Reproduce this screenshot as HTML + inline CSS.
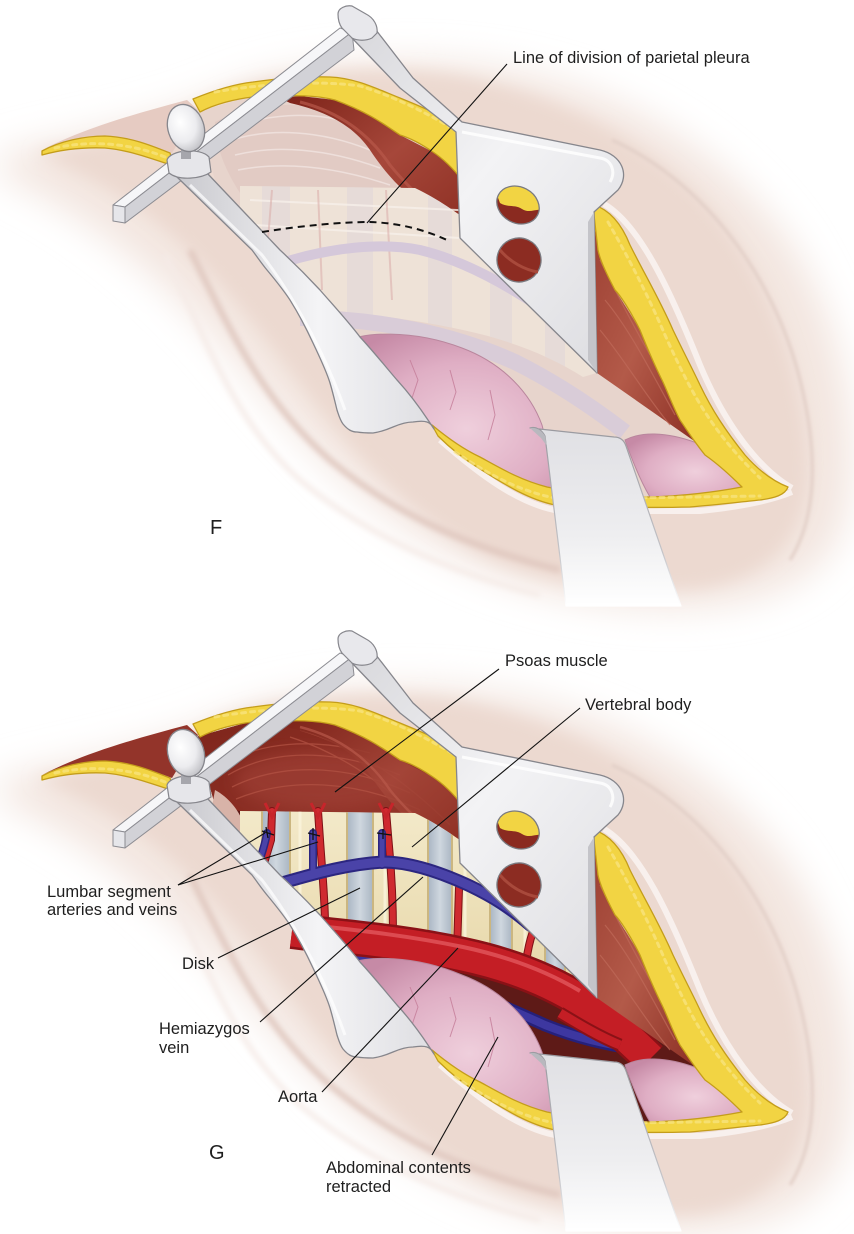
<!DOCTYPE html>
<html><head><meta charset="utf-8">
<style>
html,body{margin:0;padding:0;background:#fff;}
svg{display:block;}
text{font-family:"Liberation Sans",Arial,sans-serif;fill:#1e1e1e;}
</style></head>
<body>
<svg width="854" height="1234" viewBox="0 0 854 1234" xmlns="http://www.w3.org/2000/svg">
<defs>
  <filter id="b18" x="-30%" y="-30%" width="160%" height="160%"><feGaussianBlur stdDeviation="18"/></filter>
  <filter id="b8" x="-20%" y="-20%" width="140%" height="140%"><feGaussianBlur stdDeviation="8"/></filter>
  <filter id="b3" x="-20%" y="-20%" width="140%" height="140%"><feGaussianBlur stdDeviation="3"/></filter>
  <filter id="b2" x="-20%" y="-20%" width="140%" height="140%"><feGaussianBlur stdDeviation="1.5"/></filter>
  <linearGradient id="metal" x1="0" y1="0" x2="1" y2="0">
    <stop offset="0" stop-color="#c9c9ce"/><stop offset="0.55" stop-color="#f4f4f6"/><stop offset="1" stop-color="#dedee2"/>
  </linearGradient>
  <linearGradient id="plate" x1="0" y1="0" x2="1" y2="1">
    <stop offset="0" stop-color="#d8d8dc"/><stop offset="0.45" stop-color="#f3f3f5"/><stop offset="1" stop-color="#dcdce0"/>
  </linearGradient>
  <linearGradient id="bret" gradientUnits="userSpaceOnUse" x1="0" y1="430" x2="0" y2="605">
    <stop offset="0" stop-color="#e0e0e4"/><stop offset="0.6" stop-color="#eeeef0"/><stop offset="1" stop-color="#ffffff"/>
  </linearGradient>
  <linearGradient id="bretS" gradientUnits="userSpaceOnUse" x1="0" y1="430" x2="0" y2="605">
    <stop offset="0" stop-color="#9a9aa0"/><stop offset="0.7" stop-color="#c4c4c8"/><stop offset="1" stop-color="#ffffff"/>
  </linearGradient>
  <linearGradient id="mus" x1="0" y1="0" x2="1" y2="1">
    <stop offset="0" stop-color="#7c2218"/><stop offset="0.5" stop-color="#a6473a"/><stop offset="1" stop-color="#8a2c20"/>
  </linearGradient>
  <linearGradient id="musR" x1="0" y1="0" x2="1" y2="1">
    <stop offset="0" stop-color="#9c3f32"/><stop offset="0.5" stop-color="#b35a49"/><stop offset="1" stop-color="#8c2f24"/>
  </linearGradient>
  <linearGradient id="psoas" x1="0" y1="0" x2="1" y2="1">
    <stop offset="0" stop-color="#7e251b"/><stop offset="0.5" stop-color="#94352a"/><stop offset="1" stop-color="#7a2219"/>
  </linearGradient>
  <radialGradient id="organ" cx="0.6" cy="0.6" r="0.7">
    <stop offset="0" stop-color="#efcfdc"/><stop offset="0.6" stop-color="#dfaec4"/><stop offset="1" stop-color="#c68aa6"/>
  </radialGradient>
  <radialGradient id="knob" cx="0.4" cy="0.35" r="0.7">
    <stop offset="0" stop-color="#ffffff"/><stop offset="0.6" stop-color="#ececef"/><stop offset="1" stop-color="#bdbdc2"/>
  </radialGradient>
  <linearGradient id="bone" x1="0" y1="0" x2="0" y2="1">
    <stop offset="0" stop-color="#f3e9c9"/><stop offset="1" stop-color="#e6d6a6"/>
  </linearGradient>
  <linearGradient id="disk" x1="0" y1="0" x2="1" y2="0">
    <stop offset="0" stop-color="#a9b5c3"/><stop offset="0.5" stop-color="#cfd7df"/><stop offset="1" stop-color="#aab6c3"/>
  </linearGradient>
  <clipPath id="spineClip">
    <path d="M 240,186 L 415,188 C 440,200 455,212 470,222 C 495,235 515,243 530,252 C 555,268 575,290 590,320 L 600,372 L 583,377 C 550,356 510,340 463,330 C 400,316 340,312 295,306 L 270,270 L 240,230 Z"/>
  </clipPath>
  <clipPath id="hole1"><ellipse cx="518" cy="205" rx="22" ry="18" transform="rotate(28 518 205)"/></clipPath>

  <!-- SKIN -->
  <g id="skin">
    <path d="M 0,155 C 60,138 150,125 230,90 C 300,62 420,52 520,72 C 630,95 720,150 785,235 C 845,320 865,440 845,520 C 825,590 745,612 650,608 C 560,604 470,575 400,525 C 330,475 280,415 225,350 C 165,280 90,215 0,175 Z" fill="#f3e6e0" filter="url(#b18)"/>
    <path d="M 35,153 C 100,142 165,128 215,98 C 275,68 400,64 470,78 C 560,98 640,138 700,198 C 768,268 806,378 808,468 C 808,538 768,578 700,588 C 620,594 560,586 500,562 C 432,532 380,482 330,422 C 282,362 242,302 182,244 C 132,198 82,172 35,153 Z" fill="#ecd9d0" filter="url(#b8)"/>
    <path d="M 190,250 C 230,330 262,400 330,460 C 390,510 460,545 560,570" stroke="#e0c8bf" stroke-width="6" fill="none" filter="url(#b3)"/>
    <path d="M 165,255 C 205,335 232,420 300,480 C 360,530 440,570 540,595" stroke="#f5ebe7" stroke-width="5" fill="none" filter="url(#b3)"/>
    <path d="M 612,140 C 700,180 772,270 800,380 C 820,460 815,520 790,560" stroke="#e2cfc7" stroke-width="3" fill="none" filter="url(#b2)"/>
    <path d="M 604,204 C 640,225 670,290 700,365 C 725,425 760,470 792,488" stroke="#f8f0ed" stroke-width="6" fill="none"/>
    <path d="M 440,440 C 480,475 520,505 560,511 L 700,511 C 740,507 770,501 792,492" stroke="#f8f0ed" stroke-width="6" fill="none"/>
  </g>

  <!-- FAT -->
  <g id="fat" fill="#f2d443" stroke="#c49d1a" stroke-width="1.3" stroke-linejoin="round">
    <path d="M 42,151 C 60,141 85,136 105,136 C 130,137 150,145 170,153 L 174,166 C 150,158 128,150 105,148 C 80,147 60,150 42,155 Z"/>
    <path d="M 193,99 C 215,90 235,84 253,82 C 275,79 300,76 330,77 C 355,78 375,88 400,98 C 420,106 440,115 462,126 L 462,180 C 452,167 442,158 433,152 C 420,143 410,138 400,135 C 385,125 370,113 335,100 C 315,95 300,95 253,97 C 235,99 215,104 200,112 Z"/>
    <path d="M 594,205 C 610,210 622,225 630,245 C 645,275 660,300 673,330 C 685,355 693,370 700,385 C 712,410 725,430 745,455 C 760,472 775,482 788,487 C 785,495 775,498 760,500 C 740,502 715,505 690,507 C 650,508 600,507 555,505 C 530,500 505,485 480,469 C 462,458 450,448 438,436 L 432,425 C 450,440 465,450 480,457 C 500,468 520,480 547,487 C 580,494 620,497 650,497 C 680,496 710,493 742,487 C 725,470 715,462 705,455 C 693,440 687,430 680,420 C 672,405 667,390 662,380 C 652,360 646,345 640,330 C 630,310 620,295 615,290 C 607,275 600,260 598,250 L 594,215 Z"/>
    <g fill="none" stroke="#f9e685" stroke-width="3" stroke-dasharray="4 5" stroke-linecap="round" opacity="0.7">
      <path d="M 215,92 C 260,84 320,80 360,86 C 395,97 425,112 455,130"/>
      <path d="M 608,222 C 630,260 650,300 665,335 C 690,390 710,430 760,478"/>
      <path d="M 455,452 C 490,475 520,492 560,499 L 760,496"/>
      <path d="M 55,148 C 90,140 130,143 165,157"/>
    </g>
  </g>

  <!-- RETRACTORS -->
  <g id="retr" stroke-linejoin="round">
    <path d="M 113,205 L 340,28 L 352,32 L 125,207 Z" fill="#f6f6f8" stroke="#8c8c92" stroke-width="1"/>
    <path d="M 125,207 L 352,32 L 354,50 L 125,223 Z" fill="#d2d2d7" stroke="#8c8c92" stroke-width="1"/>
    <path d="M 113,205 L 125,207 L 125,223 L 113,221 Z" fill="#e6e6ea" stroke="#8c8c92" stroke-width="1"/>
    <path d="M 352,38 L 376,30 L 413,78 L 462,122 L 600,150 C 622,155 630,175 618,190 L 594,212 L 597,373 L 460,238 L 456,132 L 400,88 Z" fill="url(#plate)" stroke="#86868c" stroke-width="1.3"/>
    <path d="M 594,212 L 597,373 L 588,360 L 588,222 Z" fill="#c4c4c9"/>
    <path d="M 462,132 L 600,158 C 612,160 616,172 610,182" fill="none" stroke="#ffffff" stroke-width="3" opacity="0.8"/>
    <path d="M 338,14 C 338,8 346,5 352,6 L 366,14 C 374,18 378,26 377,33 L 372,38 C 366,41 358,41 352,38 L 342,28 C 339,24 338,19 338,14 Z" fill="#e8e8ec" stroke="#86868c" stroke-width="1.2"/>
    <g clip-path="url(#hole1)">
      <rect x="490" y="180" width="60" height="50" fill="#8a2a20"/>
      <path d="M 492,182 L 548,182 L 545,210 C 536,208 530,214 522,209 C 515,204 508,208 500,203 Z" fill="#f2d443"/>
    </g>
    <ellipse cx="518" cy="205" rx="22" ry="18" transform="rotate(28 518 205)" fill="none" stroke="#7a7a80" stroke-width="1.3"/>
    <ellipse cx="519" cy="260" rx="22" ry="22" transform="rotate(25 519 260)" fill="#8c2c22" stroke="#7a7a80" stroke-width="1.3"/>
    <path d="M 500,250 C 510,262 525,270 538,272" stroke="#a8493b" stroke-width="3" fill="none"/>
    <path d="M 177,177 L 252,250 C 258,258 262,264 267,270 C 277,282 284,291 290,300 C 300,316 307,330 313,343 C 320,358 326,370 330,383 C 333,393 335,402 337,410 C 339,416 340,420 343,424 C 348,430 352,432 357,432 C 363,433 368,433 373,433 C 380,432 386,430 393,427 C 400,424 406,422 413,422 C 419,421 424,421 427,422 C 430,423 432,425 434,429 C 432,426 430,423 428,420 C 418,405 408,392 397,380 C 385,366 373,351 360,337 C 347,320 333,305 320,290 C 307,276 294,263 280,250 L 207,173 Z" fill="url(#metal)" stroke="#86868c" stroke-width="1.3"/>
    <path d="M 190,185 L 262,255 C 285,285 320,340 345,410" fill="none" stroke="#ffffff" stroke-width="3" opacity="0.7"/>
    <path d="M 167,160 C 170,150 200,147 209,157 L 211,172 C 201,179 179,181 169,173 Z" fill="#e6e6ea" stroke="#86868c" stroke-width="1.2"/>
    <rect x="181" y="148" width="10" height="11" fill="#a6a6ac"/>
    <ellipse cx="186" cy="128" rx="18" ry="24" transform="rotate(-18 186 128)" fill="url(#knob)" stroke="#86868c" stroke-width="1.3"/>
    <path d="M 530,428 C 536,426 542,430 545,436 L 566,606 L 681,606 L 626,446 C 624,440 620,437 614,437 Z" fill="url(#bret)" stroke="url(#bretS)" stroke-width="1.2"/>
    <path d="M 530,428 C 537,427 542,431 545,436 L 547,446 L 541,438 Z" fill="#b8b8be"/>
  </g>
</defs>

<!-- ================= PANEL F ================= -->
<use href="#skin"/>
<g id="intF">
  <path d="M 42,150 C 80,130 130,115 187,100 L 198,110 L 172,153 C 150,145 128,137 105,136 C 85,136 60,141 42,150 Z" fill="#e6cbc2"/>
  <path d="M 196,112 L 253,96 L 300,95 L 335,99 L 370,113 L 400,133 L 433,150 L 460,172 L 530,185 L 594,212 L 598,250 L 615,290 L 640,330 L 662,380 L 680,420 L 705,455 L 745,488 L 700,495 L 650,499 L 600,497 L 547,489 L 515,477 L 480,459 L 432,425 L 400,390 L 350,330 L 300,280 L 250,230 L 215,180 Z" fill="#e7d4cc"/>
  <path d="M 215,122 C 250,105 290,100 330,110 C 360,130 385,160 400,192 C 360,197 300,196 240,193 C 225,170 215,145 215,122 Z" fill="#e2cbc4"/>
  <g stroke="#f1e5e1" stroke-width="1.5" fill="none" opacity="0.8">
    <path d="M 232,140 C 270,128 320,130 370,150"/>
    <path d="M 235,155 C 275,145 325,148 380,168"/>
    <path d="M 238,170 C 280,162 330,165 390,185"/>
    <path d="M 240,125 C 270,115 305,112 340,120"/>
  </g>
  <path d="M 280,98 L 300,96 L 335,100 L 370,115 L 400,135 L 433,152 L 462,175 L 462,248 C 440,222 418,200 400,187 C 388,175 380,165 370,150 C 355,128 330,112 290,103 Z" fill="url(#mus)"/>
  <path d="M 300,102 C 340,112 370,135 390,165 C 410,190 435,210 460,235" stroke="#b8594a" stroke-width="3" fill="none" opacity="0.7"/>
  <path d="M 240,186 L 415,188 C 440,200 455,212 470,222 C 495,235 515,243 530,252 C 555,268 575,290 590,320 L 600,372 L 583,377 C 550,356 510,340 463,330 C 400,316 340,312 295,306 L 270,270 L 240,230 Z" fill="#eee2d7"/>
  <g clip-path="url(#spineClip)" fill="#ddd4da" opacity="0.5">
    <rect x="262" y="180" width="28" height="200"/><rect x="347" y="180" width="26" height="200"/>
    <rect x="428" y="180" width="24" height="200"/><rect x="490" y="180" width="22" height="200"/>
    <rect x="545" y="180" width="20" height="200"/>
  </g>
  <g stroke="#f7f0ea" stroke-width="2" fill="none" opacity="0.8">
    <path d="M 250,200 L 560,215"/><path d="M 255,225 L 570,245"/>
  </g>
  <g stroke="#dcb1ad" stroke-width="2" fill="none" opacity="0.6">
    <path d="M 272,190 L 268,240"/><path d="M 318,190 L 322,290"/><path d="M 386,190 L 392,300"/>
  </g>
  <path d="M 285,262 C 330,248 380,242 420,250 C 470,262 520,292 565,325" stroke="#d5c8da" stroke-width="10" fill="none"/>
  <path d="M 300,318 C 380,318 455,335 515,362 C 555,382 590,405 625,432" stroke="#d9ccd8" stroke-width="16" fill="none"/>
  <path d="M 593,215 L 598,250 C 602,265 610,282 615,290 C 625,305 633,318 640,330 C 648,350 655,365 662,380 C 670,397 675,410 680,420 C 687,430 692,437 697,443 L 597,373 Z" fill="url(#musR)"/>
  <g stroke="#c06b5a" stroke-width="1.2" fill="none" opacity="0.7">
    <path d="M 605,300 C 630,330 650,370 675,415"/><path d="M 600,330 C 625,360 645,395 670,425"/><path d="M 600,260 C 615,290 630,320 650,355"/>
  </g>
  <path d="M 338,345 C 360,330 415,330 462,348 C 502,363 530,392 542,425 C 548,448 551,470 552,492 L 547,489 C 520,481 500,470 480,459 C 462,449 447,438 432,425 C 400,400 362,372 338,345 Z" fill="url(#organ)" stroke="#b9869d" stroke-width="1"/>
  <g stroke="#c47c98" stroke-width="1" fill="none" opacity="0.8">
    <path d="M 410,360 L 418,380 L 412,398"/><path d="M 450,370 L 456,392 L 450,410"/><path d="M 490,390 L 495,415 L 488,440"/><path d="M 380,360 L 385,378"/>
  </g>
  <path d="M 625,440 C 640,432 665,431 697,443 C 715,452 730,470 742,487 C 720,492 690,496 650,497 C 640,480 632,460 625,440 Z" fill="url(#organ)" stroke="#b9869d" stroke-width="1"/>
</g>
<use href="#fat"/>
<use href="#retr"/>
<path d="M 262,232 C 300,226 340,222 370,222 C 400,223 425,230 447,240" stroke="#111" stroke-width="2" stroke-dasharray="7 5" fill="none"/>

<!-- ================= PANEL G ================= -->
<g transform="translate(0,625)">
  <use href="#skin"/>
  <g id="intG">
    <path d="M 42,150 C 80,130 130,115 187,100 L 198,110 L 172,153 C 150,145 128,137 105,136 C 85,136 60,141 42,150 Z" fill="#93342a"/>
    <path d="M 196,112 L 253,96 L 300,95 L 335,99 L 370,113 L 400,133 L 433,150 L 460,172 L 530,185 L 594,212 L 598,250 L 615,290 L 640,330 L 662,380 L 680,420 L 705,455 L 745,488 L 700,495 L 650,499 L 600,497 L 547,489 L 515,477 L 480,459 L 432,425 L 400,390 L 350,330 L 300,280 L 250,230 L 215,180 Z" fill="#5e1a17"/>
    <path d="M 196,112 L 253,96 L 300,95 L 335,99 L 370,113 L 400,133 L 433,150 L 460,172 L 530,185 L 594,212 L 600,300 L 530,252 L 470,222 L 415,188 L 240,186 L 215,180 Z" fill="url(#psoas)"/>
    <ellipse cx="320" cy="155" rx="85" ry="30" fill="#a5443a" opacity="0.55" filter="url(#b8)"/>
    <g stroke="#b25243" stroke-width="1.3" fill="none" opacity="0.75">
      <path d="M 228,150 C 270,125 330,122 400,150"/><path d="M 232,162 C 280,138 345,138 410,168"/>
      <path d="M 236,174 C 290,152 355,155 420,185"/><path d="M 226,138 C 260,118 310,112 370,128"/>
      <path d="M 300,105 C 350,120 400,150 450,200"/><path d="M 290,112 C 340,128 390,160 440,215"/>
    </g>
    <path d="M 280,98 L 300,96 L 335,100 L 370,115 L 400,135 L 433,152 L 462,175 L 462,248 C 440,222 418,200 400,187 C 388,175 380,165 370,150 C 355,128 330,112 290,103 Z" fill="url(#mus)" opacity="0.85"/>
    <path d="M 300,102 C 340,112 370,135 390,165 C 410,190 435,210 460,235" stroke="#b8594a" stroke-width="2.5" fill="none" opacity="0.7"/>
    <path d="M 215,165 C 228,172 240,185 246,205 L 244,225 C 234,210 224,195 212,182 Z" fill="#d8b3a8"/>
    <path d="M 240,186 L 415,188 C 440,200 455,212 470,222 C 495,235 515,243 530,252 C 555,268 575,290 590,320 L 600,372 L 583,377 C 550,356 510,340 463,330 C 400,316 340,312 295,306 L 270,270 L 240,230 Z" fill="url(#bone)"/>
    <g clip-path="url(#spineClip)" fill="url(#disk)" stroke="#cbb680" stroke-width="2">
      <rect x="262" y="180" width="28" height="200"/><rect x="347" y="180" width="26" height="200"/>
      <rect x="428" y="180" width="24" height="200"/><rect x="490" y="180" width="22" height="200"/>
      <rect x="545" y="180" width="20" height="200"/><rect x="588" y="180" width="14" height="200"/>
    </g>
    <g clip-path="url(#spineClip)" stroke="#fbf4dc" stroke-width="3" fill="none" opacity="0.8">
      <path d="M 300,180 L 300,320"/><path d="M 385,180 L 385,330"/><path d="M 465,180 L 465,340"/><path d="M 525,180 L 525,360"/>
    </g>
    <g stroke="#7e1015" stroke-width="8" fill="none" stroke-linecap="round">
      <path d="M 272,186 L 271,215 L 262,245"/>
      <path d="M 318,186 L 320,215 C 322,245 325,275 325,300"/>
      <path d="M 386,186 L 388,210 C 391,240 393,275 393,310"/>
      <path d="M 457,325 L 459,263"/>
      <path d="M 525,345 C 528,320 532,305 540,292"/>
    </g>
    <g stroke="#cf2a30" stroke-width="6" fill="none" stroke-linecap="round">
      <path d="M 272,186 L 271,215 L 262,245"/>
      <path d="M 318,186 L 320,215 C 322,245 325,275 325,300"/>
      <path d="M 386,186 L 388,210 C 391,240 393,275 393,310"/>
      <path d="M 457,325 L 459,263"/>
      <path d="M 525,345 C 528,320 532,305 540,292"/>
    </g>
    <g stroke="#c7252b" stroke-width="3" fill="none">
      <path d="M 265,178 L 272,192 L 279,178"/><path d="M 311,178 L 318,192 L 325,178"/><path d="M 379,178 L 386,192 L 393,178"/>
    </g>
    <g stroke="#2c2680" stroke-width="8" fill="none" stroke-linecap="round">
      <path d="M 267,208 C 265,220 261,232 256,245"/><path d="M 313,208 L 313,245"/><path d="M 382,208 L 382,240"/>
      <path d="M 282,258 C 320,247 350,239 383,237 C 410,237 440,247 470,261 C 495,273 510,283 530,300 L 575,328" stroke-width="13"/>
    </g>
    <g stroke="#4a43a8" stroke-width="5" fill="none" stroke-linecap="round">
      <path d="M 267,208 C 265,220 261,232 256,245"/><path d="M 313,208 L 313,245"/><path d="M 382,208 L 382,240"/>
      <path d="M 282,258 C 320,247 350,239 383,237 C 410,237 440,247 470,261 C 495,273 510,283 530,300 L 575,328" stroke-width="9"/>
    </g>
    <g stroke="#111" stroke-width="1.3" fill="none">
      <path d="M 262,206 L 274,210 M 266,202 L 268,213"/><path d="M 308,208 L 320,211 M 313,203 L 313,215"/><path d="M 377,208 L 391,210 M 383,204 L 383,214"/>
    </g>
    <path d="M 340,330 C 420,345 490,375 545,400 C 575,412 605,420 645,425" stroke="#25207a" stroke-width="13" fill="none"/>
    <path d="M 340,330 C 420,345 490,375 545,400 C 575,412 605,420 645,425" stroke="#3d37a0" stroke-width="8" fill="none"/>
    <path d="M 552,360 C 565,362 580,367 597,372" stroke="#3d37a0" stroke-width="9" fill="none"/>
    <path d="M 292,306 C 340,312 400,316 463,330 C 510,340 550,356 583,377 C 605,392 628,412 650,434" stroke="#8a1116" stroke-width="36" fill="none"/>
    <path d="M 292,306 C 340,312 400,316 463,330 C 510,340 550,356 583,377 C 605,392 628,412 650,434" stroke="#c41e25" stroke-width="31" fill="none"/>
    <path d="M 300,299 C 345,304 400,309 463,322 C 510,332 548,347 580,366" stroke="#e2565d" stroke-width="4" fill="none" opacity="0.8"/>
    <path d="M 560,388 C 580,400 600,412 620,420" stroke="#8a1116" stroke-width="13" fill="none"/>
    <path d="M 560,388 C 580,400 600,412 620,420" stroke="#c41e25" stroke-width="9" fill="none"/>
    <path d="M 593,215 L 598,250 C 602,265 610,282 615,290 C 625,305 633,318 640,330 C 648,350 655,365 662,380 C 670,397 675,410 680,420 C 687,430 692,437 697,443 L 597,373 Z" fill="url(#musR)"/>
    <g stroke="#c06b5a" stroke-width="1.2" fill="none" opacity="0.7">
      <path d="M 605,300 C 630,330 650,370 675,415"/><path d="M 600,330 C 625,360 645,395 670,425"/><path d="M 600,260 C 615,290 630,320 650,355"/>
    </g>
    <path d="M 345,340 C 365,330 415,330 462,350 C 502,365 530,394 542,427 C 548,450 551,470 552,492 L 547,489 C 520,481 500,470 480,459 C 462,449 447,438 432,425 C 400,400 368,370 345,340 Z" fill="url(#organ)" stroke="#b9869d" stroke-width="1"/>
    <g stroke="#c47c98" stroke-width="1" fill="none" opacity="0.8">
      <path d="M 410,362 L 418,382 L 412,400"/><path d="M 450,372 L 456,394 L 450,412"/><path d="M 490,392 L 495,417 L 488,442"/>
    </g>
    <path d="M 625,440 C 640,432 665,431 697,443 C 715,452 730,470 742,487 C 720,492 690,496 650,497 C 640,480 632,460 625,440 Z" fill="url(#organ)" stroke="#b9869d" stroke-width="1"/>
  </g>
  <use href="#fat"/>
  <use href="#retr"/>
</g>

<g stroke="#111" stroke-width="1.1" fill="none">
  <path d="M 507,64 L 367,223"/>
  <path d="M 499,669 L 335,792"/>
  <path d="M 580,708 L 412,847"/>
  <path d="M 178,885 L 265,833"/>
  <path d="M 178,885 L 318,842"/>
  <path d="M 218,958 L 360,888"/>
  <path d="M 260,1022 L 423,877"/>
  <path d="M 322,1092 L 458,948"/>
  <path d="M 432,1155 L 498,1037"/>
</g>

<g font-size="16.5">
  <text x="513" y="63">Line of division of parietal pleura</text>
  <text x="505" y="666">Psoas muscle</text>
  <text x="585" y="710">Vertebral body</text>
  <text x="47" y="897">Lumbar segment</text>
  <text x="47" y="915">arteries and veins</text>
  <text x="182" y="969">Disk</text>
  <text x="159" y="1034">Hemiazygos</text>
  <text x="159" y="1053">vein</text>
  <text x="278" y="1102">Aorta</text>
  <text x="326" y="1173">Abdominal contents</text>
  <text x="326" y="1192">retracted</text>
</g>
<text x="210" y="534" font-size="20">F</text>
<text x="209" y="1159" font-size="20">G</text>
</svg>
</body></html>
